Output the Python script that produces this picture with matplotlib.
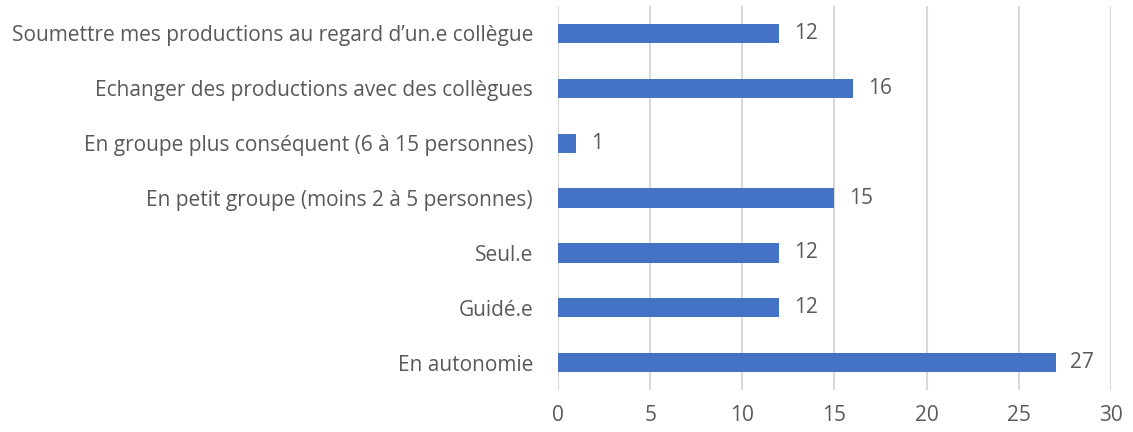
import matplotlib.pyplot as plt

categories = [
    "En autonomie",
    "Guidé.e",
    "Seul.e",
    "En petit groupe (moins 2 à 5 personnes)",
    "En groupe plus conséquent (6 à 15 personnes)",
    "Echanger des productions avec des collègues",
    "Soumettre mes productions au regard d\u2019un.e collègue",
]
values = [27, 12, 12, 15, 1, 16, 12]
xticks = [0, 5, 10, 15, 20, 25, 30]

plt.rcParams['font.family'] = ['Open Sans', 'DejaVu Sans']
txt = '#595959'
fs = 15

fig = plt.figure(figsize=(11.33, 4.32), dpi=100)
ax = fig.add_axes([0.4925, 0.097, 0.488, 0.889])

bars = ax.barh(range(len(categories)), values, height=0.35, color='#4472C4', zorder=3)
for i, v in enumerate(values):
    ax.text(v + 0.8, i, str(v), va='center', ha='left', fontsize=fs, color=txt)

ax.set_xlim(0, 30)
ax.set_ylim(-0.5, len(categories) - 0.5)
ax.set_xticks(xticks)
ax.set_yticks(range(len(categories)))
ax.set_yticklabels(categories)
ax.tick_params(axis='both', length=0, labelsize=fs, colors=txt)
ax.tick_params(axis='y', pad=18)
ax.tick_params(axis='x', pad=11)
ax.xaxis.grid(True, color='#D9D9D9', linewidth=1.5, zorder=0)
for s in ax.spines.values():
    s.set_visible(False)

fig.savefig('out.png', dpi=100)
